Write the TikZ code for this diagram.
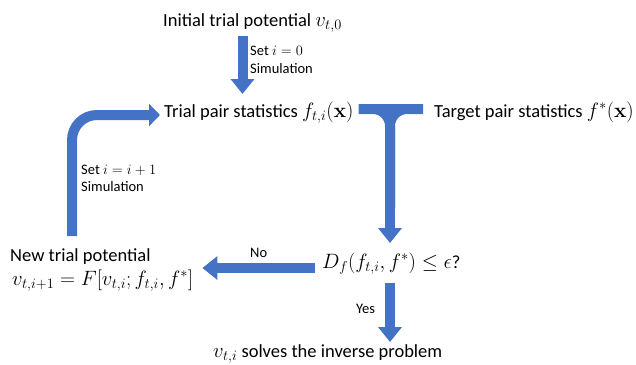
\documentclass[tikz,border=0pt]{standalone}
\usepackage[no-math]{fontspec}
\setmainfont{Carlito}
\DeclareMathSizes{18.5}{20}{14.5}{11}
\usetikzlibrary{arrows.meta,calc}
\definecolor{flowblue}{HTML}{4472C4}
\tikzset{
  big/.style={inner sep=0pt, anchor=base west, font=\fontsize{18.5}{23}\selectfont},
  small/.style={inner sep=0pt, anchor=base west, font=\fontsize{14.5}{17}\selectfont},
  bar/.style={draw=flowblue, line width=10pt},
  flow/.style={bar, -{Triangle[length=15pt,width=23pt]}},
  loopflow/.style={bar, -{Triangle[length=11pt,width=22pt]}}
}
\begin{document}
\begin{tikzpicture}[x=1pt,y=-1pt]
\useasboundingbox (0,0) rectangle (636,364);
% text nodes
\node[big] (init) at (163,26) {Initial trial potential $v_{t,0}$};
\node[big] (trial) at (164,117) {Trial pair statistics $f_{t,i}(\mathbf{x})$};
\node[big] (target) at (434,117) {Target pair statistics $f^{*}(\mathbf{x})$};
\node[big] (check) at (322,268) {$D_f(f_{t,i},f^{*})\le\epsilon$?};
\node[big] (newpot) at (10,261) {New trial potential};
\node[big] (newpotf) at (12,285) {$v_{t,i+1}=F[v_{t,i};f_{t,i},f^{*}]$};
\node[big] (solve) at (213,357) {$v_{t,i}$ solves the inverse problem};
% labels
\node[small] (set0) at (250,55) {Set $i=0$};
\node[small] (sim0) at (250,73) {Simulation};
\node[small] (set1) at (81,174) {Set $i=i+1$};
\node[small] (sim1) at (81,191) {Simulation};
\node[small] (no) at (250,257) {No};
\node[small] (yes) at (356,313) {Yes};
% helper x positions
\coordinate (ax) at (242.5,0);
\coordinate (lx) at (72,0);
\coordinate (jx) at (390,0);
% init -> trial
\draw[flow] ($(init.base -| ax)+(0,10)$) -- ($(trial.base -| ax)+(0,-23)$);
% loop: new potential -> trial
\draw[loopflow, rounded corners=25pt] ($(newpot.base -| lx)+(0,-25)$) |- ($(trial.base west)+(-4,-2)$);
% T junction: trial & target -> check
\draw[bar] ($(trial.base east)+(5,-8)$) -- ($(target.base west)+(-11,-8)$);
\draw[bar, rounded corners=17pt] ($(trial.base east)+(5,-8)$) -| ($(check.base -| jx)+(0,-60)$);
\draw[bar, rounded corners=17pt] ($(target.base west)+(-11,-8)$) -| ($(check.base -| jx)+(0,-60)$);
\draw[flow] ($(trial.base -| jx)+(0,-8)$) -- ($(check.base -| jx)+(0,-25)$);
% No: check -> new potential
\draw[flow] ($(check.base west)+(-7,0)$) -- ($(newpotf.east |- check.base)+(9,0)$);
% Yes: check -> solve
\draw[flow] ($(check.base -| jx)+(0,15)$) -- ($(solve.base -| jx)+(0,-15)$);
\end{tikzpicture}
\end{document}
